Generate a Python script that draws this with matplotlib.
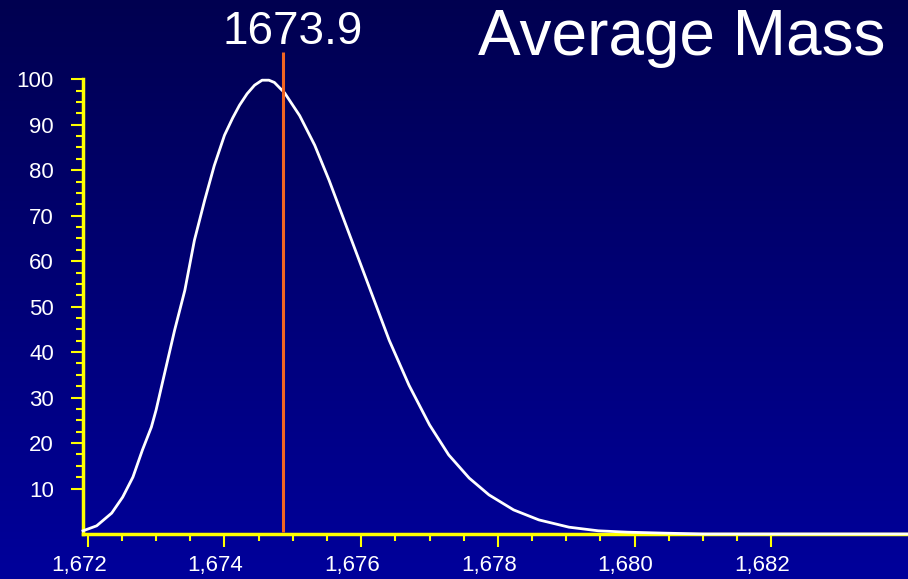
import numpy as np
import matplotlib
matplotlib.use("Agg")
import matplotlib.pyplot as plt
from matplotlib.transforms import ScaledTranslation

plt.rcParams['font.family'] = ['Liberation Sans', 'DejaVu Sans']

# isotope envelope (mass, relative intensity)
mass = [1671.93, 1672.13, 1672.35, 1672.51, 1672.66, 1672.80, 1672.93, 1673.00,
        1673.10, 1673.27, 1673.42, 1673.56, 1673.71, 1673.85, 1674.00, 1674.12,
        1674.22, 1674.33, 1674.44, 1674.55, 1674.65, 1674.73, 1674.88, 1675.10,
        1675.32, 1675.53, 1675.75, 1675.97, 1676.19, 1676.41, 1676.70, 1677.00,
        1677.28, 1677.58, 1677.87, 1678.23, 1678.60, 1679.04, 1679.47, 1679.90,
        1680.40, 1681.00, 1682.00, 1684.00]
intensity = [0.7, 1.8, 4.6, 8.1, 12.5, 18.5, 23.5, 27.3,
             33.8, 44.8, 53.6, 64.6, 73.4, 81.0, 87.7, 91.5,
             94.3, 96.8, 98.7, 99.8, 99.8, 99.3, 97.0, 92.0,
             85.5, 77.8, 69.0, 60.2, 51.4, 42.6, 32.7, 24.0,
             17.4, 12.3, 8.6, 5.3, 3.1, 1.5, 0.7, 0.4,
             0.2, 0.0, 0.0, 0.0]

avg_mass = 1674.85
avg_label = "1673.9"
title = "Average Mass"

x_major = [1672, 1674, 1676, 1678, 1680, 1682]
x_labels = ["1,672", "1,674", "1,676", "1,678", "1,680", "1,682"]
y_major = [10, 20, 30, 40, 50, 60, 70, 80, 90, 100]

yellow = "#ffff00"

fig = plt.figure(figsize=(9.08, 5.79), dpi=100)

# gradient background
bg = fig.add_axes([0, 0, 1, 1], zorder=0)
grad = np.linspace(0, 1, 256).reshape(-1, 1)
top = np.array([0, 0, 80]) / 255
bot = np.array([0, 0, 155]) / 255
img = top + (bot - top) * grad[:, :, None]
bg.imshow(img, aspect="auto", extent=[0, 1, 0, 1])
bg.axis("off")

ax = fig.add_axes([83 / 908, 45 / 579, 825 / 908, 482 / 579], zorder=1)
ax.patch.set_alpha(0)

ax.plot(mass, intensity, color="white", lw=2.0, zorder=3, clip_on=False,
        solid_joinstyle="round")
ax.vlines(avg_mass, 0.5, 106, color="#f26522", lw=2.2, zorder=4)

ax.set_xlim(1671.93, 1684)
ax.set_ylim(0, 106)

for s in ["top", "right"]:
    ax.spines[s].set_visible(False)
for s in ["left", "bottom"]:
    ax.spines[s].set_color(yellow)
    ax.spines[s].set_linewidth(2.5)
ax.spines["left"].set_bounds(0, 100)

ax.set_xticks(x_major)
ax.set_xticklabels(x_labels)
ax.set_xticks(np.arange(1672, 1682.01, 0.5), minor=True)
ax.set_yticks(y_major)
ax.set_yticks(np.arange(10, 100.01, 2.5), minor=True)

ax.tick_params(axis="both", which="both", colors=yellow, labelcolor="white",
               width=1.5, labelsize=16)
ax.tick_params(axis="x", which="major", length=9, pad=6)
ax.tick_params(axis="x", which="minor", length=5)
ax.tick_params(axis="y", which="major", length=9, pad=12)
ax.tick_params(axis="y", which="minor", length=5)

shift = ScaledTranslation(-9 / 100, 0, fig.dpi_scale_trans)
for lab in ax.get_xticklabels():
    lab.set_transform(lab.get_transform() + shift)

fig.text(293 / 908, 1 - 32 / 579, avg_label, color="white", fontsize=33,
         ha="center", va="center")
fig.text(885 / 908, 1 - 38 / 579, title, color="white", fontsize=46,
         ha="right", va="center")

fig.savefig("out.png", dpi=100)
